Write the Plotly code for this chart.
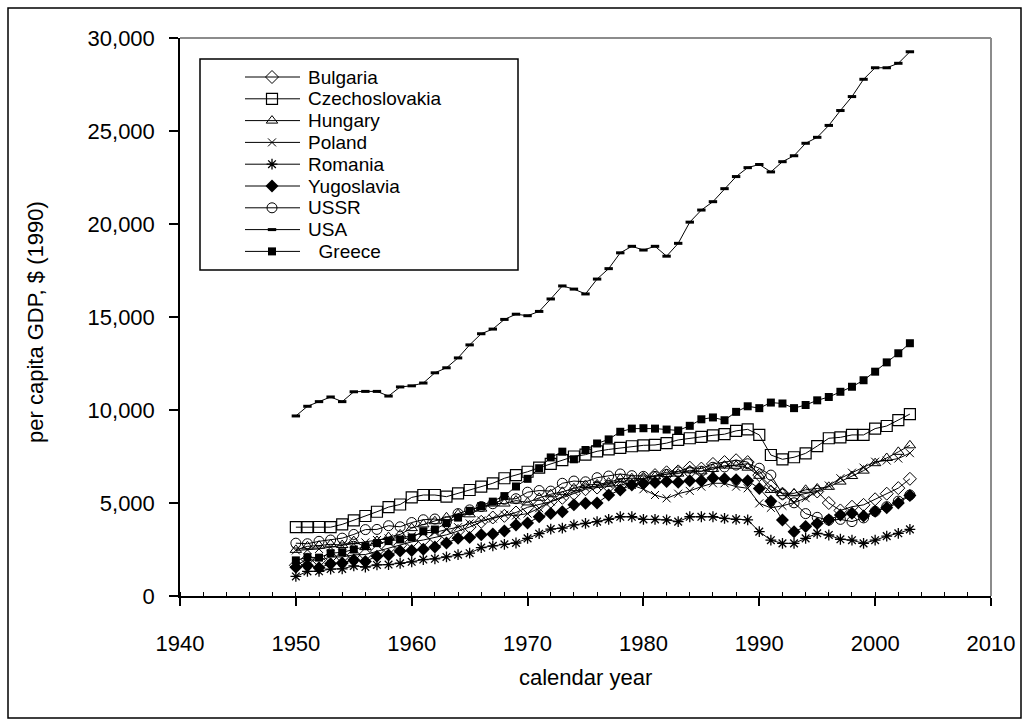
import plotly.graph_objects as go

# ---------------- data (per capita GDP, 1990 $) ----------------
years = list(range(1950, 2004))

bulgaria = [1650, 1970, 1900, 2100, 2100, 2210, 2230, 2410, 2560, 2730,
            2910, 3010, 3130, 3290, 3490, 3710, 3990, 4220, 4310, 4490,
            4770, 4900, 5070, 5280, 5500, 5740, 5830, 5890, 5950, 6140,
            6300, 6500, 6650, 6700, 6900, 6850, 7100, 7200, 7300, 7200,
            6500, 5900, 5500, 5400, 5500, 5620, 5000, 4600, 4800, 4900,
            5200, 5500, 5800, 6300]

czechoslovakia = [3700, 3700, 3710, 3700, 3850, 4070, 4300, 4530, 4780, 4920,
                  5300, 5430, 5430, 5340, 5520, 5700, 5880, 6060, 6330, 6500,
                  6680, 6900, 7100, 7300, 7500, 7600, 7780, 7880, 7960, 8050,
                  8100, 8120, 8220, 8390, 8480, 8560, 8640, 8700, 8880, 8960,
                  8660, 7580, 7350, 7460, 7670, 8060, 8480, 8530, 8660, 8660,
                  9000, 9140, 9460, 9780]

hungary = [2480, 2670, 2710, 2780, 2740, 2950, 2630, 2960, 3170, 3310,
           3650, 3850, 4020, 4230, 4400, 4390, 4700, 4970, 4970, 5130,
           5030, 5280, 5470, 5600, 5790, 5970, 6000, 6100, 6300, 6330,
           6310, 6430, 6560, 6580, 6760, 6700, 6830, 7010, 7000, 6900,
           6460, 5700, 5530, 5520, 5710, 5780, 5870, 6150, 6450, 6740,
           7140, 7420, 7750, 8100]

poland = [2450, 2480, 2530, 2630, 2720, 2820, 2880, 3010, 3100, 3130,
          3220, 3400, 3420, 3570, 3700, 3900, 4060, 4160, 4370, 4330,
          4430, 4720, 5080, 5340, 5620, 5810, 5910, 6010, 6150, 5970,
          5740, 5430, 5250, 5500, 5650, 5880, 6060, 6060, 5880, 5790,
          4980, 4740, 4850, 5020, 5260, 5620, 5940, 6330, 6630, 6900,
          7220, 7280, 7390, 7680]

romania = [1050, 1320, 1330, 1450, 1460, 1620, 1560, 1670, 1690, 1760,
           1840, 1960, 2000, 2100, 2220, 2300, 2600, 2700, 2780, 2850,
           3100, 3350, 3600, 3650, 3820, 3900, 4000, 4120, 4260, 4260,
           4120, 4120, 4090, 4000, 4260, 4260, 4260, 4170, 4120, 4090,
           3460, 3000, 2830, 2830, 3100, 3370, 3280, 3050, 3000, 2830,
           3000, 3220, 3370, 3580]

yugoslavia = [1550, 1640, 1520, 1730, 1780, 1940, 1860, 2140, 2200, 2420,
              2440, 2520, 2630, 2850, 3100, 3150, 3290, 3330, 3500, 3820,
              3920, 4260, 4440, 4530, 4900, 4980, 5000, 5430, 5700, 5970,
              6050, 6100, 6150, 6120, 6200, 6200, 6350, 6300, 6250, 6200,
              5780, 5100, 4090, 3460, 3730, 3900, 4100, 4350, 4450, 4300,
              4550, 4750, 5000, 5400]

ussr = [2840, 2810, 2940, 3010, 3110, 3310, 3570, 3580, 3780, 3720,
        3950, 4100, 4140, 4000, 4430, 4630, 4810, 4960, 5200, 5230,
        5580, 5670, 5640, 6060, 6180, 6140, 6360, 6450, 6560, 6470,
        6430, 6430, 6540, 6670, 6680, 6710, 6920, 6940, 7040, 7110,
        6870, 6500, 5480, 5010, 4430, 4230, 4080, 4120, 4000, 4200,
        4550, 4800, 5100, 5430]

usa = [9680, 10200, 10450, 10700, 10450, 10980, 11000, 11000, 10750, 11240,
       11300, 11450, 12000, 12270, 12800, 13500, 14100, 14350, 14870, 15150,
       15070, 15300, 15970, 16670, 16500, 16240, 17040, 17600, 18450, 18800,
       18600, 18800, 18270, 18960, 20100, 20750, 21200, 21900, 22550, 23030,
       23200, 22800, 23350, 23670, 24340, 24660, 25300, 26100, 26850, 27780,
       28400, 28400, 28640, 29260]

greece = [1915, 2086, 2063, 2301, 2349, 2500, 2681, 2842, 2953, 3040,
          3146, 3480, 3573, 3918, 4215, 4581, 4839, 5073, 5372, 5887,
          6300, 6870, 7450, 7760, 7350, 7850, 8200, 8420, 8830, 9000,
          9020, 9000, 8950, 8900, 9150, 9500, 9600, 9450, 9900, 10200,
          10100, 10400, 10350, 10100, 10270, 10520, 10700, 10980, 11250, 11600,
          12060, 12560, 13050, 13590]

series_names = ["Bulgaria", "Czechoslovakia", "Hungary", "Poland", "Romania",
                "Yugoslavia", "USSR", "USA", " Greece"]
series_values = [bulgaria, czechoslovakia, hungary, poland, romania,
                 yugoslavia, ussr, usa, greece]

y_ticks = [0, 5000, 10000, 15000, 20000, 25000, 30000]
x_ticks = [1940, 1950, 1960, 1970, 1980, 1990, 2000, 2010]

# ---------------- styles ----------------
FONT = "Liberation Sans, Arial, sans-serif"
BLK = "black"
styles = [
    dict(symbol="diamond-open", size=10, color=BLK, line=dict(color=BLK, width=1)),
    dict(symbol="square-open", size=11, color=BLK, line=dict(color=BLK, width=1.2)),
    dict(symbol="triangle-up-open", size=10, color=BLK, line=dict(color=BLK, width=1)),
    dict(symbol="x-thin-open", size=8, color=BLK, line=dict(color=BLK, width=1)),
    dict(symbol="asterisk-open", size=9, color=BLK, line=dict(color=BLK, width=1.3)),
    dict(symbol="diamond", size=10, color=BLK, line=dict(color=BLK, width=0)),
    dict(symbol="circle-open", size=10, color=BLK, line=dict(color=BLK, width=1)),
    dict(symbol="line-ew-open", size=6, color=BLK, line=dict(color=BLK, width=3)),
    dict(symbol="square", size=8, color=BLK, line=dict(color=BLK, width=0)),
]

W, H = 1029, 727
L, R, T, B = 180, 38, 38, 131
PX0, PX1 = L, W - R          # plot area in pixels
PY0, PY1 = T, H - B


def px_to_paper_x(px):
    return (px - PX0) / (PX1 - PX0)


def px_to_paper_y(py):
    return (PY1 - py) / (PY1 - PY0)


fig = go.Figure()

for name, vals, st in zip(series_names, series_values, styles):
    fig.add_trace(go.Scatter(
        x=years, y=vals, mode="lines+markers", name=name.strip(),
        line=dict(color=BLK, width=1), marker=st, showlegend=False,
        cliponaxis=False,
    ))

# ---------------- custom legend (pixel-space overlay axes) ----------------
LEG_X0, LEG_X1, LEG_Y0, LEG_Y1 = 200, 518, 59, 270
ITEM_Y0, ITEM_DY = 77, 21.8
SAMPLE_X0, SAMPLE_X1, SAMPLE_XM, TEXT_X = 245, 300, 272, 306
LEG_FONT = 19

shapes = []
annotations = []
shapes.append(dict(type="rect", xref="x2", yref="y2", x0=LEG_X0, x1=LEG_X1,
                   y0=LEG_Y0, y1=LEG_Y1, line=dict(color=BLK, width=1.5),
                   fillcolor="white", layer="below"))
for i, (name, st) in enumerate(zip(series_names, styles)):
    yy = ITEM_Y0 + i * ITEM_DY
    shapes.append(dict(type="line", xref="x2", yref="y2", x0=SAMPLE_X0, x1=SAMPLE_X1,
                       y0=yy, y1=yy, line=dict(color=BLK, width=1)))
    fig.add_trace(go.Scatter(x=[SAMPLE_XM], y=[yy], mode="markers", marker=st,
                             xaxis="x2", yaxis="y2", showlegend=False,
                             hoverinfo="skip"))
    annotations.append(dict(xref="x2", yref="y2", x=TEXT_X, y=yy,
                            text=name.replace(" ", "&nbsp;&nbsp;"),
                            showarrow=False, xanchor="left", yanchor="middle",
                            font=dict(family=FONT, size=LEG_FONT, color=BLK)))

# axis titles
annotations.append(dict(xref="paper", yref="paper", x=px_to_paper_x(585), y=px_to_paper_y(677),
                        text="calendar year", showarrow=False, xanchor="center", yanchor="middle",
                        font=dict(family=FONT, size=22, color=BLK)))
annotations.append(dict(xref="paper", yref="paper", x=px_to_paper_x(36), y=px_to_paper_y(322),
                        text="per capita GDP, $ (1990)", showarrow=False, textangle=-90,
                        xanchor="center", yanchor="middle",
                        font=dict(family=FONT, size=22, color=BLK)))

# gray top / right plot border
shapes.append(dict(type="line", xref="paper", yref="paper", x0=0, x1=1, y0=1, y1=1,
                   line=dict(color="#8c8c8c", width=2)))
shapes.append(dict(type="line", xref="paper", yref="paper", x0=1, x1=1, y0=0, y1=1,
                   line=dict(color="#8c8c8c", width=2)))
# outer frame of the picture
shapes.append(dict(type="rect", xref="paper", yref="paper",
                   x0=px_to_paper_x(8), x1=px_to_paper_x(1021),
                   y0=px_to_paper_y(718), y1=px_to_paper_y(8),
                   line=dict(color=BLK, width=1.5)))

fig.update_layout(
    width=W, height=H,
    margin=dict(l=L, r=R, t=T, b=B, pad=0),
    paper_bgcolor="white", plot_bgcolor="white",
    font=dict(family=FONT, size=22, color=BLK),
    showlegend=False,
    xaxis=dict(range=[1940, 2010], tickvals=x_ticks, ticks="outside", ticklen=8,
               tickwidth=1.5, tickcolor=BLK, showline=True, linecolor=BLK,
               linewidth=1.5, showgrid=False, zeroline=False,
               minor=dict(dtick=2, ticks="inside", ticklen=4, tickcolor=BLK,
                          tickwidth=1.2, showgrid=False),
               ticklabelstandoff=19, tickfont=dict(family=FONT, size=22)),
    yaxis=dict(range=[0, 30000], tickvals=y_ticks, tickformat=",d", ticks="outside",
               ticklen=9, tickwidth=1.5, tickcolor=BLK, showline=True,
               linecolor=BLK, linewidth=1.5, showgrid=False, zeroline=False,
               ticklabelstandoff=10, tickfont=dict(family=FONT, size=22)),
    xaxis2=dict(range=[PX0, PX1], overlaying="x", anchor="y2", visible=False,
                fixedrange=True),
    yaxis2=dict(range=[PY1, PY0], overlaying="y", anchor="x2", visible=False,
                fixedrange=True),
    shapes=shapes,
    annotations=annotations,
)

fig.write_html("out.html", config={"displayModeBar": False},
               post_script="document.body.style.margin='0';document.body.style.overflow='hidden';")
